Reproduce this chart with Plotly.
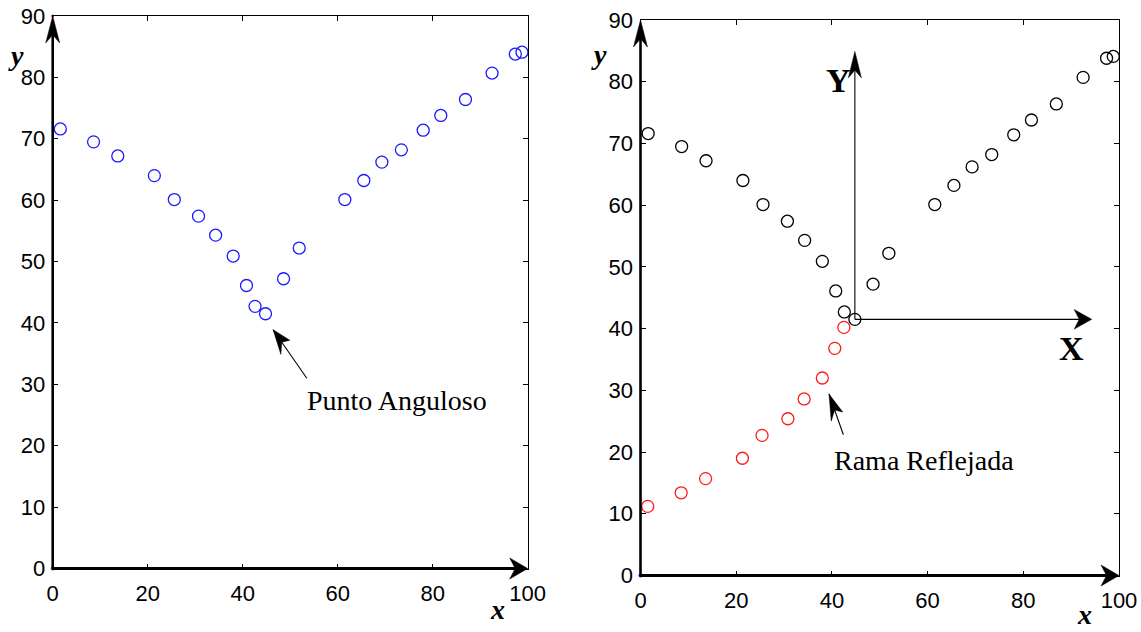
import math
import plotly.graph_objects as go

# ---------------- data ----------------
bx = [1.6, 8.6, 13.7, 21.4, 25.6, 30.7, 34.3, 38.0, 40.8, 42.6, 44.8, 48.6, 51.9,
      61.5, 65.5, 69.3, 73.4, 78.0, 81.7, 86.9, 92.5, 97.4, 98.8]
by = [71.6, 69.5, 67.2, 64.0, 60.1, 57.4, 54.3, 50.9, 46.1, 42.7, 41.5, 47.2, 52.2,
      60.1, 63.2, 66.2, 68.2, 71.4, 73.8, 76.4, 80.7, 83.8, 84.1]
# reflected branch (right panel, red)
rx = [1.5, 8.5, 13.6, 21.3, 25.4, 30.8, 34.2, 38.0, 40.6, 42.5]
ry = [11.2, 13.4, 15.7, 19.0, 22.7, 25.4, 28.6, 32.0, 36.8, 40.2]

xticks = [0, 20, 40, 60, 80, 100]
yticks = [0, 10, 20, 30, 40, 50, 60, 70, 80, 90]
XMAX, YMAX = 100, 90
corner = 10                     # index of the angular point
local_y_tip = 84.9              # top of local Y axis (right panel)
local_x_tip = 94.3              # end of local X axis (right panel)

W, H = 1141, 632
dom_l = dict(x=[52.7 / W, 527.7 / W], y=[1 - 568.5 / H, 1 - 16 / H])
dom_r = dict(x=[640.5 / W, 1119.0 / W], y=[1 - 575.5 / H, 1 - 20 / H])

TICKFONT = dict(family="Liberation Sans, Arial, sans-serif", size=22, color="black")
SERIF = "Liberation Serif, Times New Roman, serif"

fig = go.Figure()

def mk(x, y, color, xa, ya, size=12):
    return go.Scatter(x=x, y=y, mode="markers", xaxis=xa, yaxis=ya, showlegend=False,
                      cliponaxis=False,
                      marker=dict(symbol="circle-open", size=size,
                                  line=dict(width=1.3, color=color), color=color))

fig.add_trace(mk(bx, by, "#1a1aff", "x", "y"))
fig.add_trace(mk(rx, ry, "#ff1a1a", "x2", "y2"))
fig.add_trace(mk(bx, by, "black", "x2", "y2"))
# tiny stray dots at the origin / corner (present in the reference)
fig.add_trace(go.Scatter(x=[0], y=[YMAX], mode="markers", xaxis="x", yaxis="y", showlegend=False,
                         cliponaxis=False, marker=dict(size=3, color="red")))
fig.add_trace(go.Scatter(x=[0], y=[0], mode="markers", xaxis="x", yaxis="y", showlegend=False,
                         cliponaxis=False, marker=dict(size=4, color="green")))
fig.add_trace(go.Scatter(x=[0], y=[0], mode="markers", xaxis="x2", yaxis="y2", showlegend=False,
                         cliponaxis=False, marker=dict(size=4, color="blue")))

def axis(dom, anchor):
    return dict(domain=dom, anchor=anchor, showgrid=False, zeroline=False, automargin=False,
                showline=True, linecolor="black", linewidth=1, mirror="ticks",
                ticks="inside", ticklen=5, tickwidth=1, tickcolor="black",
                tickfont=TICKFONT, fixedrange=True)

xl = axis(dom_l["x"], "y"); xl.update(range=[0, XMAX], tickvals=xticks, ticklabelstandoff=5)
yl = axis(dom_l["y"], "x"); yl.update(range=[0, YMAX], tickvals=yticks, ticklabelstandoff=2)
xr = axis(dom_r["x"], "y2"); xr.update(range=[0, XMAX], tickvals=xticks, ticklabelstandoff=5)
yr = axis(dom_r["y"], "x2"); yr.update(range=[0, YMAX], tickvals=yticks, ticklabelstandoff=2)

shapes = []
annotations = []

def ppu(dom, span, total):
    return (dom[1] - dom[0]) * total / span

def to_paper(dom, x, y):
    return (dom["x"][0] + x / XMAX * (dom["x"][1] - dom["x"][0]),
            dom["y"][0] + y / YMAX * (dom["y"][1] - dom["y"][0]))

def head(xref, yref, xt, yt, dxp, dyp, L=18.0, hw=7.0, notch=5.5, stretch=1.5):
    """Filled swept-back arrowhead in pixel space, anchored at the tip."""
    ux, uy = dxp, dyp / stretch
    n = math.hypot(ux, uy)
    ux, uy = ux / n, uy / n
    px, py = -uy, ux
    pts = [(0, 0),
           (-L * ux + hw * px, -L * uy + hw * py),
           (-(L - notch) * ux, -(L - notch) * uy),
           (-L * ux - hw * px, -L * uy - hw * py)]
    pts = [(a, b * stretch) for a, b in pts]
    path = "M" + " L".join(f"{a:.2f},{b:.2f}" for a, b in pts) + " Z"
    return dict(type="path", xref=xref, yref=yref, xsizemode="pixel", ysizemode="pixel",
                xanchor=xt, yanchor=yt, path=path, fillcolor="black",
                line=dict(color="black", width=0.5), layer="above")

def frame_axes(dom):
    # drawn in paper coordinates so nothing is clipped at the plot edge
    x0, x1 = dom["x"]
    y0, y1 = dom["y"]
    shapes.append(dict(type="line", xref="paper", yref="paper", x0=x0, x1=x0, y0=y0,
                       y1=y1 - 12 / H, line=dict(color="black", width=2.6), layer="above"))
    shapes.append(head("paper", "paper", x0, y1, 0, 1))
    shapes.append(dict(type="line", xref="paper", yref="paper", x0=x0, x1=x1 - 8 / W,
                       y0=y0, y1=y0, line=dict(color="black", width=2.8), layer="above"))
    shapes.append(head("paper", "paper", x1, y0, 1, 0))
    return ppu(dom["x"], XMAX, W), ppu(dom["y"], YMAX, H)

kxl, kyl = frame_axes(dom_l)
kxr, kyr = frame_axes(dom_r)

def pointer(xref, yref, kx, ky, tail, tip):
    dxp = (tip[0] - tail[0]) * kx
    dyp = (tip[1] - tail[1]) * ky
    shapes.append(dict(type="line", xref=xref, yref=yref, x0=tail[0], y0=tail[1],
                       x1=tip[0], y1=tip[1], line=dict(color="black", width=1.1), layer="above"))
    shapes.append(head(xref, yref, tip[0], tip[1], dxp, dyp, L=17, hw=6.5, notch=5))

# "Punto Anguloso" pointer (left)
pointer("x", "y", kxl, kyl, (53.5, 31.0), (46.4, 38.9))
# "Rama Reflejada" pointer (right)
pointer("x2", "y2", kxr, kyr, (42.4, 22.8), (39.4, 29.4))

# local axes at the angular point (right panel)
cx, cy = bx[corner], by[corner]
shapes.append(dict(type="line", xref="x2", yref="y2", x0=cx, x1=cx, y0=cy,
                   y1=local_y_tip - 10 / kyr, line=dict(color="black", width=1.1), layer="above"))
shapes.append(head("x2", "y2", cx, local_y_tip, 0, 1, L=17.5, hw=6.5, notch=5))
shapes.append(dict(type="line", xref="x2", yref="y2", x0=cx, x1=local_x_tip - 8 / kxr, y0=cy,
                   y1=cy, line=dict(color="black", width=1.1), layer="above"))
shapes.append(head("x2", "y2", local_x_tip, cy, 1, 0, L=17.5, hw=6.5, notch=5))

def txt(dom, x, y, t, size):
    px, py = to_paper(dom, x, y)
    annotations.append(dict(xref="paper", yref="paper", x=px, y=py, text=t, showarrow=False,
                            xanchor="center", yanchor="middle",
                            font=dict(family=SERIF, size=size, color="black")))

txt(dom_l, 72.5, 27.3, "Punto Anguloso", 28)
txt(dom_r, 59.3, 18.7, "Rama Reflejada", 28)
txt(dom_r, 41.4, 80.2, "<b>Y</b>", 34)
txt(dom_r, 90.0, 36.7, "<b>X</b>", 34)
txt(dom_l, -7.8, 83.6, "<b><i>y</i></b>", 28)
txt(dom_r, -8.6, 84.4, "<b><i>y</i></b>", 28)
txt(dom_l, 93.6, -6.6, "<b><i>x</i></b>", 28)
txt(dom_r, 92.8, -6.3, "<b><i>x</i></b>", 28)

fig.update_layout(
    width=W, height=H, margin=dict(l=0, r=0, t=0, b=0),
    paper_bgcolor="white", plot_bgcolor="white",
    xaxis=xl, yaxis=yl, xaxis2=xr, yaxis2=yr,
    shapes=shapes, annotations=annotations, showlegend=False,
)

fig.write_html("out.html")
